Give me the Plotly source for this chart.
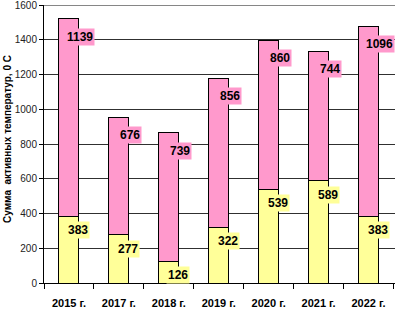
import plotly.graph_objects as go

years = ["2015 г.", "2017 г.", "2018 г.", "2019 г.", "2020 г.", "2021 г.", "2022 г."]
base_vals = [383, 277, 126, 322, 539, 589, 383]
top_vals = [1139, 676, 739, 856, 860, 744, 1096]
y_ticks = [0, 200, 400, 600, 800, 1000, 1200, 1400, 1600]

PINK = "#FF99CC"
YELLOW = "#FFFF99"
FONT = "Liberation Sans, Arial, sans-serif"

fig = go.Figure()
fig.add_trace(go.Bar(x=years, y=base_vals, marker=dict(color=YELLOW, line=dict(color="black", width=1))))
fig.add_trace(go.Bar(x=years, y=top_vals, marker=dict(color=PINK, line=dict(color="black", width=1))))

annotations = []
for yr, b, t in zip(years, base_vals, top_vals):
    annotations.append(dict(x=yr, y=b, xref="x", yref="y", text=f"<b>{b}</b>", showarrow=False,
                            xshift=9, yshift=-14, bgcolor=YELLOW, borderpad=1,
                            font=dict(family=FONT, size=12, color="black")))
    annotations.append(dict(x=yr, y=b + t, xref="x", yref="y", text=f"<b>{t}</b>", showarrow=False,
                            xshift=11, yshift=-18, bgcolor=PINK, borderpad=1,
                            font=dict(family=FONT, size=12, color="black")))
annotations.append(dict(x=-0.104, y=0.52, xref="paper", yref="paper", xanchor="center", yanchor="middle",
                        text="<b>Сумма  активных температур, 0 С</b>", textangle=-90, showarrow=False,
                        font=dict(family=FONT, size=10, color="black")))

fig.update_layout(
    width=396, height=309,
    margin=dict(l=44, r=1, t=5, b=26),
    barmode="stack", bargap=0.6, showlegend=False,
    plot_bgcolor="white", paper_bgcolor="white",
    annotations=annotations,
    shapes=[dict(type="line", xref="paper", yref="y", x0=0, x1=1, y0=y_ticks[-1], y1=y_ticks[-1],
                 line=dict(color="#303030", width=1), layer="below")],
    xaxis=dict(showline=True, linecolor="black", linewidth=1, ticks="outside", tickson="boundaries",
               ticklen=5, tickcolor="black", showgrid=False, automargin=False,
               ticklabelstandoff=10, ticklabeloverflow="allow",
               tickfont=dict(family=FONT, size=11, color="black", weight="bold")),
    yaxis=dict(range=[0, 1600.5], tickvals=y_ticks, showline=True, linecolor="black", linewidth=1,
               ticks="outside", ticklen=4, tickcolor="black", showgrid=True, gridcolor="#303030",
               gridwidth=1, zeroline=False, automargin=False, ticklabeloverflow="allow",
               tickfont=dict(family=FONT, size=10, color="#222")),
)

fig.write_html("out.html", config={"displayModeBar": False},
               post_script="document.body.style.margin='0';document.body.style.overflow='hidden';")
